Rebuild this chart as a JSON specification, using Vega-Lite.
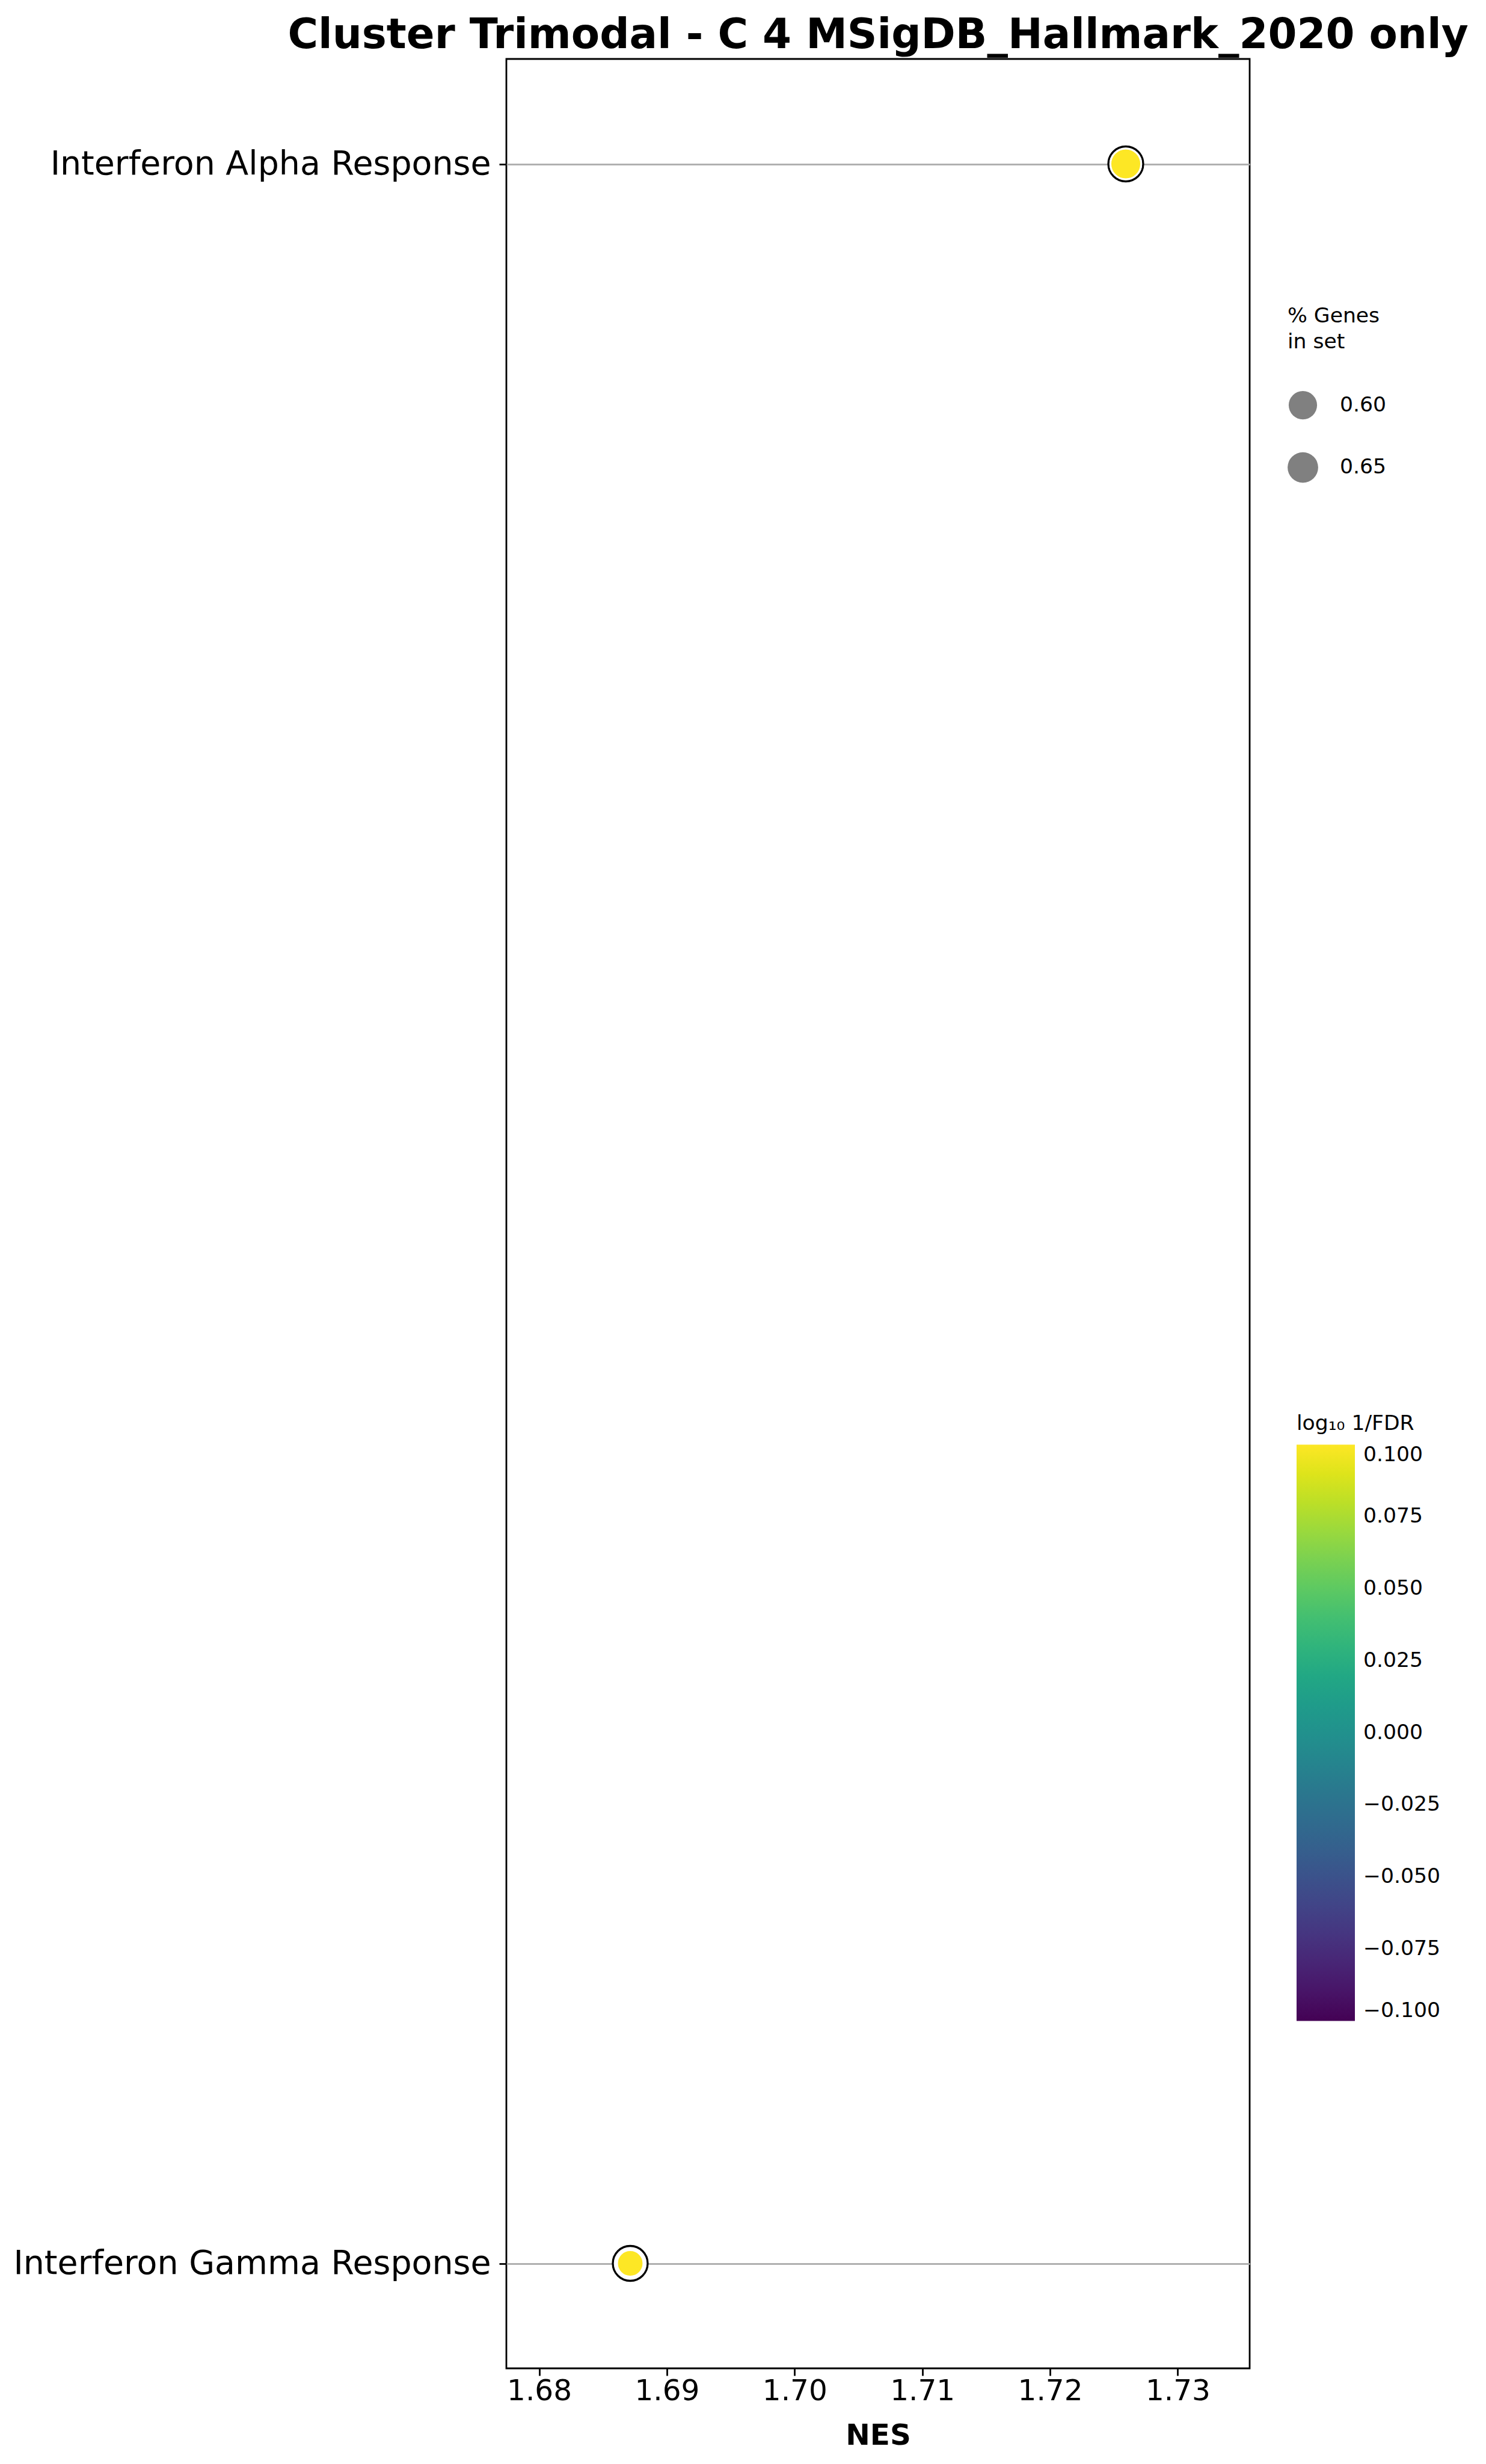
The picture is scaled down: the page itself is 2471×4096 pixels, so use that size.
{
  "$schema": "https://vega.github.io/schema/vega-lite/v6.json",
  "autosize": {"type": "none"},
  "padding": {"left": 842, "top": 98, "right": 393, "bottom": 159},
  "width": 1236,
  "height": 3839,
  "background": "white",
  "config": {
    "font": "DejaVu Sans",
    "view": {"stroke": "black", "strokeWidth": 2.8},
    "axis": {"labelColor": "black", "titleColor": "black", "tickColor": "black", "labelFont": "DejaVu Sans", "titleFont": "DejaVu Sans"},
    "legend": {"labelFont": "DejaVu Sans", "titleFont": "DejaVu Sans", "labelColor": "black", "titleColor": "black", "padding": 0}
  },
  "title": {
    "text": "Cluster Trimodal - C 4 MSigDB_Hallmark_2020 only",
    "fontSize": 69,
    "fontWeight": "bold",
    "font": "DejaVu Sans",
    "anchor": "middle",
    "offset": 4,
    "color": "black"
  },
  "data": {
    "values": [
      {"Term": "Interferon Alpha Response", "NES": 1.72593, "Genes": 0.654, "logFDR": 0.1},
      {"Term": "Interferon Gamma Response", "NES": 1.68713, "Genes": 0.558, "logFDR": 0.1}
    ]
  },
  "encoding": {
    "x": {
      "field": "NES", "type": "quantitative",
      "scale": {"domain": [1.67743, 1.73563], "nice": false, "zero": false},
      "axis": {
        "title": "NES", "titleFontSize": 48.5, "titleFontWeight": "bold", "titlePadding": 27,
        "values": [1.68, 1.69, 1.7, 1.71, 1.72, 1.73], "format": ".2f",
        "labelFontSize": 48.5, "tickSize": 12, "tickWidth": 2.8, "labelPadding": 2,
        "domain": false, "grid": false
      }
    },
    "y": {
      "field": "Term", "type": "nominal",
      "sort": ["Interferon Alpha Response", "Interferon Gamma Response"],
      "scale": {"type": "point", "padding": 0.05},
      "axis": {
        "title": null, "labelFontSize": 55.4, "tickSize": 12, "tickWidth": 2.8, "labelPadding": 14,
        "labelLimit": 2000, "domain": false, "grid": true, "gridColor": "#b0b0b0", "gridWidth": 2.8
      }
    }
  },
  "layer": [
    {
      "mark": {"type": "circle", "size": 3359, "fill": "white", "stroke": "black", "strokeWidth": 3.3, "opacity": 1}
    },
    {
      "mark": {"type": "circle", "stroke": "white", "strokeWidth": 3, "opacity": 1},
      "encoding": {
        "size": {
          "field": "Genes", "type": "quantitative",
          "scale": {"domain": [0.55, 0.7], "range": [1866, 2937], "zero": false},
          "legend": {
            "orient": "none", "legendX": 1299, "legendY": 411,
            "title": ["% Genes", "in set"], "titleFontSize": 34.6, "titleLineHeight": 43, "titleFontWeight": "normal",
            "titlePadding": 63,
            "values": [0.6, 0.65], "format": ".2f", "labelFontSize": 34.6,
            "symbolType": "circle", "rowPadding": 54, "labelOffset": 36,
            "symbolFillColor": "#808080", "symbolStrokeColor": "#808080", "symbolStrokeWidth": 0, "symbolOpacity": 1,
            "encode": {"symbols": {
              "enter": {"fill": {"value": "#808080"}, "stroke": {"value": "#808080"}, "strokeWidth": {"value": 0}},
              "update": {"fill": {"value": "#808080"}, "stroke": {"value": "#808080"}, "strokeWidth": {"value": 0}, "opacity": {"value": 1}}
            }}
          }
        },
        "fill": {
          "field": "logFDR", "type": "quantitative",
          "scale": {"scheme": "viridis", "domain": [-0.1, 0.1], "nice": false},
          "legend": {
            "orient": "none", "legendX": 1314, "legendY": 2252, "direction": "vertical",
            "title": "log₁₀ 1/FDR", "titleFontSize": 34.6, "titleFontWeight": "normal", "titlePadding": 17, "titleLimit": 1000,
            "gradientLength": 958, "gradientThickness": 97, "gradientStrokeWidth": 0,
            "values": [-0.1, -0.075, -0.05, -0.025, 0, 0.025, 0.05, 0.075, 0.1], "format": ".3f",
            "labelFontSize": 34.6, "labelOffset": 14, "labelOverlap": false
          }
        }
      }
    }
  ]
}
